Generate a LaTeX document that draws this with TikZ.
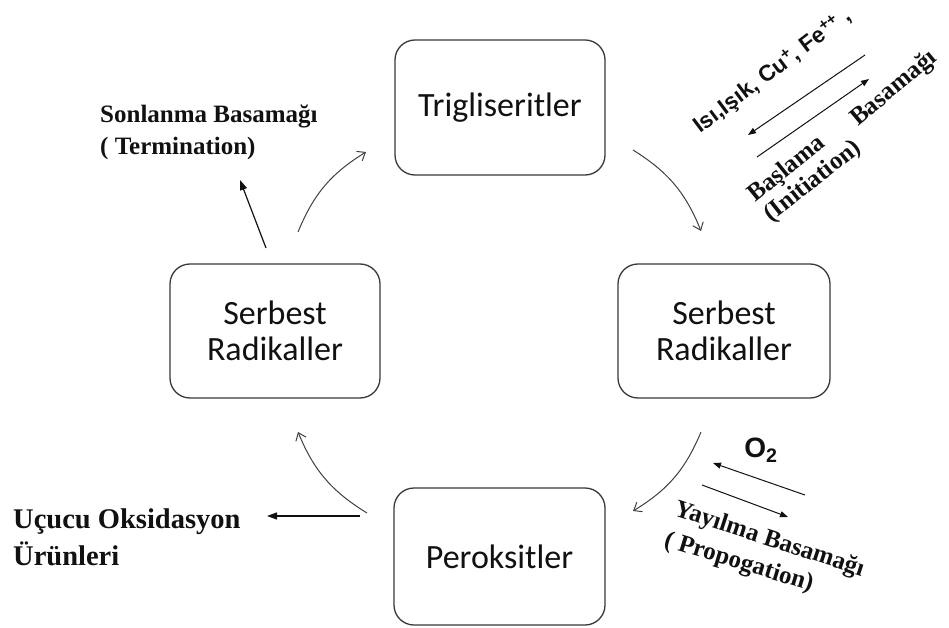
\documentclass[tikz,border=0pt]{standalone}
\usepackage{fontspec}
\setmainfont{Liberation Serif}
\newfontfamily\calibrifont{Carlito}
\newfontfamily\arialfont{Liberation Sans}
\usetikzlibrary{arrows.meta}
\definecolor{boxgray}{HTML}{3A3A3A}
\definecolor{arrgray}{HTML}{404040}
\definecolor{txt}{HTML}{111111}
\begin{document}
\begin{tikzpicture}[x=1pt,y=-1pt,
  box/.style={draw=boxgray, line width=1.3pt, rounded corners=20pt, align=center,
    font=\calibrifont\fontsize{34}{36}\selectfont, text=txt, inner sep=0pt},
  cyc/.style={draw=arrgray, line width=1pt, -{Straight Barb[length=7pt,width=11pt]}},
  fat/.style={draw=txt, line width=1.2pt, -{Triangle[length=10pt,width=7pt]}},
  rxn/.style={draw=txt, line width=1pt, -{Triangle[length=8pt,width=6pt]}},
  lbl/.style={font=\bfseries\fontsize{25}{30}\selectfont, text=txt, inner sep=0pt, anchor=base west},
  biglbl/.style={lbl, font=\bfseries\fontsize{28.5}{34}\selectfont},
  sanslbl/.style={font=\arialfont\bfseries\fontsize{22.5}{27}\selectfont, text=txt, inner sep=0pt},
]
\useasboundingbox (0,0) rectangle (949,628);
\fill[white] (0,0) rectangle (949,628);

% boxes
\node[box, minimum width=210pt, minimum height=135pt] (T) at (500,107.5) {Trigliseritler};
\node[box, minimum width=212pt, minimum height=134pt] (R) at (724,331) {Serbest\\Radikaller};
\node[box, minimum width=210pt, minimum height=134pt] (L) at (275,331) {Serbest\\Radikaller};
\node[box, minimum width=211pt, minimum height=137pt] (P) at (499.5,556.5) {Peroksitler};

% cycle arrows
\coordinate (c1a) at (633,150); \coordinate (c1b) at (701,231);
\coordinate (c2a) at (701,432); \coordinate (c2b) at (633,511);
\coordinate (c3a) at (367,513); \coordinate (c3b) at (298,432);
\coordinate (c4a) at (298,232); \coordinate (c4b) at (366,152);
\draw[cyc] (c1a) to[bend left=18] (c1b);
\draw[cyc] (c2a) to[bend left=18] (c2b);
\draw[cyc] (c3a) to[bend left=18] (c3b);
\draw[cyc] (c4a) to[bend left=18] (c4b);

% termination
\node[lbl] (son1) at (100,123) {Sonlanma Basamağı};
\node[lbl] (son2) at (100,155) {( Termination)};
\coordinate (ta) at (266,248); \coordinate (tb) at (240,180);
\draw[fat] (ta) -- (tb);

% volatile products
\node[biglbl] (uc1) at (13,528) {Uçucu Oksidasyon};
\node[biglbl] (uc2) at (13,565) {Ürünleri};
\coordinate (ua) at (360,516); \coordinate (ub) at (267,516);
\draw[fat] (ua) -- (ub);

% initiation
\node[sanslbl, anchor=base west, rotate=37] (isi) at (700,134) {Isı,Işık, Cu\textsuperscript{+}, Fe\textsuperscript{++} ,};
\coordinate (ia1) at (865,55); \coordinate (ia2) at (748,135);
\coordinate (ib1) at (757,157); \coordinate (ib2) at (869,79);
\draw[rxn] (ia1) -- (ia2);
\draw[rxn] (ib1) -- (ib2);
\node[lbl, rotate=39] (bas1) at (755,203) {Başlama};
\node[lbl, rotate=40] (bas2) at (858,127) {Basamağı};
\node[lbl, rotate=38.5] (init) at (771,223) {(Initiation)};

% propagation
\node[font=\arialfont\bfseries\fontsize{28}{32}\selectfont, text=txt, inner sep=0pt] (o2) at (761,450) {O\textsubscript{2}};
\coordinate (oa1) at (805,495); \coordinate (oa2) at (713,463);
\coordinate (ob1) at (702,485); \coordinate (ob2) at (788,517);
\draw[rxn] (oa1) -- (oa2);
\draw[rxn] (ob1) -- (ob2);
\node[lbl, rotate=-18] (yay1) at (673,515) {Yayılma Basamağı};
\node[lbl, rotate=-17] (yay2) at (663,546) {( Propogation)};
\end{tikzpicture}
\end{document}
